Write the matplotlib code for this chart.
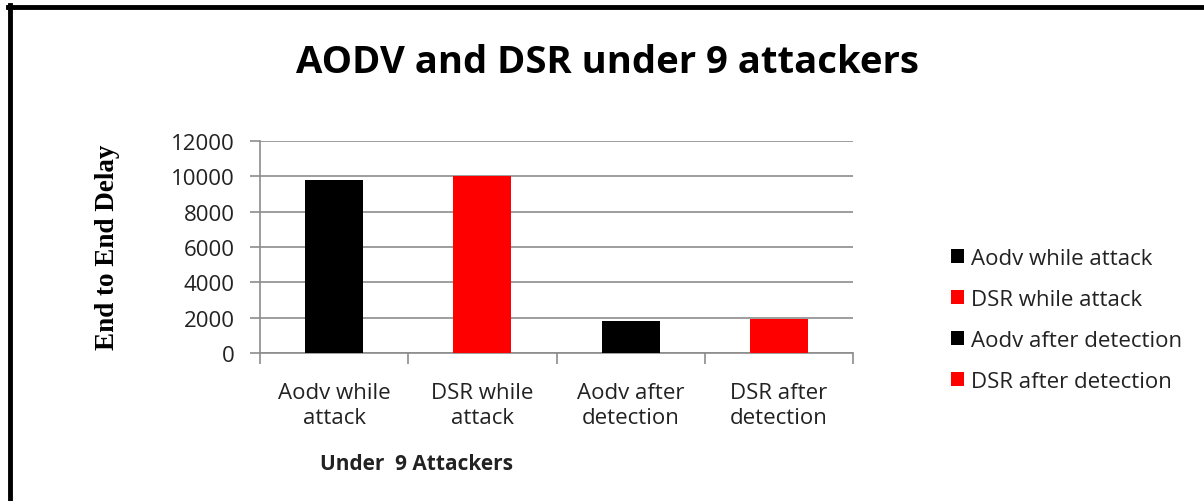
import numpy as np
import matplotlib
matplotlib.use("Agg")
from matplotlib import pyplot as plt
from matplotlib.lines import Line2D

categories = ["Aodv while\nattack", "DSR while\nattack", "Aodv after\ndetection", "DSR after\ndetection"]
legend_labels = ["Aodv while attack", "DSR while attack", "Aodv after detection", "DSR after detection"]
delays = [9800, 10000, 1800, 1900]
bar_colors = ["#000000", "#ff0000", "#000000", "#ff0000"]
yticks = [0, 2000, 4000, 6000, 8000, 10000, 12000]

plt.rcParams["font.family"] = ["Open Sans", "DejaVu Sans"]

W, H = 1204, 502
fig = plt.figure(figsize=(W / 100, H / 100), dpi=100)

# axes box in pixels: x 260..853, y 142..354
ax = fig.add_axes([260 / W, 1 - 354 / H, 593 / W, 212 / H])
x = np.arange(len(delays))
bars = ax.bar(x, delays, width=0.39, color=bar_colors, zorder=3)

ax.set_xlim(-0.5, len(delays) - 0.5)
ax.set_ylim(0, 12000)
ax.set_yticks(yticks)
ax.set_yticklabels([str(t) for t in yticks], fontsize=16, color="#222222")
ax.yaxis.grid(True, color="#8c8c8c", linewidth=1.2, zorder=0)
ax.tick_params(axis="y", length=7, color="#8c8c8c", width=1.2, pad=11)

# category labels centred under bars, ticks between categories
ax.set_xticks(x)
ax.set_xticklabels(categories, fontsize=16, color="#222222", linespacing=1.22)
ax.tick_params(axis="x", length=0, pad=21)
ax.set_xticks(np.arange(-0.5, len(delays)), minor=True)
ax.tick_params(axis="x", which="minor", length=8, color="#8c8c8c", width=1.2)

for s in ["top", "right"]:
    ax.spines[s].set_visible(False)
for s in ["left", "bottom"]:
    ax.spines[s].set_color("#8c8c8c")
    ax.spines[s].set_linewidth(1.2)

fig.text(608 / W, 1 - 63 / H, "AODV and DSR under 9 attackers", ha="center", va="center",
         fontsize=27.5, fontweight="bold")
fig.text(107 / W, 1 - 247 / H, "End to End Delay", rotation=90, ha="center", va="center",
         fontsize=19.5, fontweight="bold", family="Liberation Serif")
fig.text(416 / W, 1 - 465 / H, "Under  9 Attackers", ha="center", va="center",
         fontsize=15, fontweight="bold", color="#222222")

leg = fig.legend(bars, legend_labels, loc="upper left", bbox_to_anchor=(942 / W, 1 - 240 / H),
                 frameon=False, fontsize=16, handlelength=0.6, handleheight=0.6,
                 handletextpad=0.3, labelspacing=0.9, borderaxespad=0)
for t in leg.get_texts():
    t.set_color("#222222")

# black frame on top and left edges
fig.add_artist(Line2D([8 / W, 1], [1 - 8 / H, 1 - 8 / H], color="black", linewidth=3.5,
                      transform=fig.transFigure))
fig.add_artist(Line2D([10 / W, 10 / W], [0, 1 - 6 / H], color="black", linewidth=3.5,
                      transform=fig.transFigure))

fig.savefig("out.png", dpi=100, facecolor="white")
